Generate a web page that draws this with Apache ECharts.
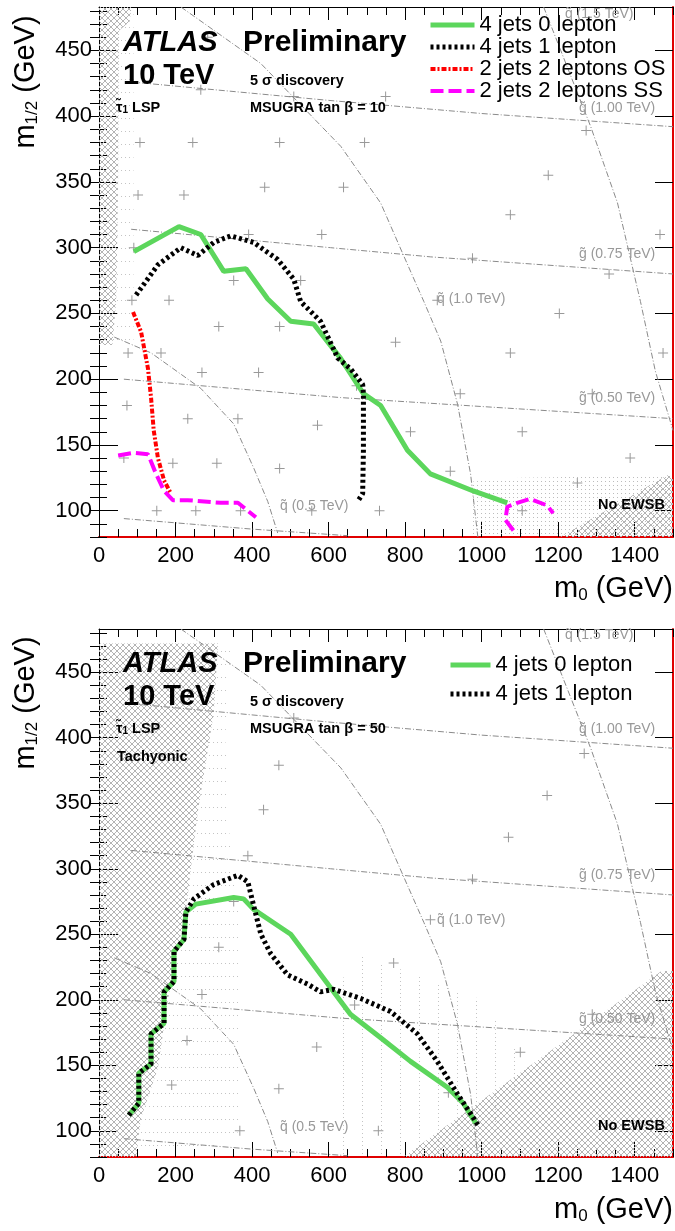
<!DOCTYPE html>
<html>
<head>
<meta charset="utf-8">
<script src="https://cdn.jsdelivr.net/npm/echarts@6/dist/echarts.min.js"></script>
<style>
html, body { margin: 0; background: #fff; }
#chart { width: 675px; height: 1231px; }
</style>
</head>
<body>
<div id="chart"></div>
<script>
// axis ticks
const xMajor = [0, 200, 400, 600, 800, 1000, 1200, 1400];
const yMajor = [100, 150, 200, 250, 300, 350, 400, 450];

// 5 sigma discovery reach, tan beta = 10 (m0, m1/2 in GeV)
const jets4lep0_tb10 = [[91,297],[209,316],[266,310],[326,282],[384,284],[441,261],[501,244],[561,242],[631,216],[691,189],[736,180],[806,146],[866,128],[978,115],[1067,106]];
const jets4lep1_tb10 = [[97,264],[154,287],[214,300],[258,294],[300,304],[344,309],[404,304],[467,291],[509,276],[527,259],[579,244],[624,216],[657,208],[689,196],[691,189],[691,146],[689,113],[678,108]];
const jets2lepOS_tb10 = [[89,251],[110,236],[128,208],[136,186],[143,161],[154,140],[170,123],[188,113]];
const jets2lepSS_tb10 = [[50,142],[91,144],[128,143],[149,128],[170,115],[193,108],[232,108],[318,106],[363,106],[410,95]];
const jets2lepSS_tb10_b = [[1083,85],[1062,93],[1067,103],[1093,106],[1127,109],[1171,104],[1187,98]];

// tan beta = 50
const jets4lep0_tb50 = [[78,112],[104,121],[104,144],[136,151],[136,174],[170,182],[170,206],[196,214],[196,237],[222,246],[227,267],[253,273],[352,278],[378,277],[404,269],[501,250],[631,199],[657,189],[736,171],[814,153],[911,133],[952,121],[984,106]];
const jets4lep1_tb50 = [[78,112],[104,121],[104,144],[136,151],[136,174],[170,182],[170,206],[196,214],[196,237],[222,246],[227,267],[248,277],[300,288],[363,295],[389,290],[404,272],[423,250],[449,235],[493,219],[545,212],[579,206],[613,208],[684,201],[762,191],[832,174],[884,153],[937,128],[978,110],[991,104]];

// sparticle mass contours
const gluino100 = [[84,426],[600,412],[1000,402],[1500,392]];
const gluino075 = [[84,314],[605,300],[867,293],[1500,280]];
const gluino050 = [[65,200],[632,186],[1500,170]];
const gluino025 = [[65,94],[400,86],[650,81]];
const squark05 = [[40,232],[136,220],[266,193],[352,166],[405,132],[441,107],[467,83]];
const squark10 = [[214,483],[423,440],[632,377],[736,334],[796,294],[849,259],[893,229],[937,181],[971,128],[990,80]];
const squark15 = [[1162,483],[1285,392],[1355,334],[1415,259],[1454,206],[1500,161]];

// excluded regions
const stauLsp_tb10 = [[0,483],[85,483],[80,472],[52,465],[50,350],[45,260],[35,226],[0,226]];
const noEwsb_tb10 = [[1205,80],[1500,80],[1500,126],[1485,127]];
const tachyonic_tb50 = [[0,80],[97,80],[102,93],[110,110],[154,148],[180,200],[214,250],[227,267],[240,300],[258,343],[300,419],[311,472],[0,472]];
const noEwsb_tb50 = [[795,80],[1500,80],[1500,222],[1470,222]];

// sparse scan texture next to the excluded regions
const scanEdge_tb10 = [[970,80],[970,122],[1100,125],[1500,127],[1500,80]];
const stauEdge_tb10 = [[35,226],[90,226],[90,483],[80,483],[52,465],[50,350],[45,260]];
const tachEdge_tb50 = [[97,80],[102,93],[110,110],[154,148],[180,200],[214,250],[227,267],[240,300],[258,343],[300,419],[311,472],[345,472],[330,400],[345,300],[370,262],[370,100],[250,80]];
const scanGrid_tb50 = [[600,80],[600,200],[680,235],[800,222],[1000,200],[1120,150],[1000,80]];

// scan points
const scan_tb10 = [[284,460],[266,420],[509,415],[107,380],[245,380],[472,380],[102,340],[222,340],[433,346],[391,310],[582,310],[91,300],[352,275],[527,275],[183,260],[86,260],[749,415],[694,380],[639,346],[1174,355],[1075,325],[1273,389],[1466,310],[976,292],[1333,280],[313,240],[472,240],[76,220],[162,220],[269,205],[417,205],[73,180],[232,170],[363,170],[571,165],[65,140],[193,136],[308,136],[472,132],[151,100],[253,100],[370,100],[556,100],[1203,250],[775,228],[1075,220],[944,189],[1474,220],[814,160],[1106,160],[918,130],[1250,121],[1388,140],[733,100],[1106,100],[884,260],[673,195],[1289,189]];
const scan_tb50 = [[509,415],[470,379],[430,345],[389,310],[352,275],[1268,388],[1171,356],[1070,324],[976,292],[313,240],[269,204],[230,169],[569,164],[190,135],[470,132],[368,100],[770,228],[668,196],[1101,160],[913,129],[730,100],[866,261],[1289,189]];

const FONT = 'Liberation Sans';
const chart = echarts.init(document.getElementById('chart'));

// fill patterns: 'cross' hatch, 'dot' grid, 'hrow' dotted rows, 'vcol' dotted columns
function pattern(color, w, h, kind) {
    const c = document.createElement('canvas');
    c.width = w; c.height = h;
    const g = c.getContext('2d');
    g.fillStyle = color; g.strokeStyle = color; g.lineWidth = 1;
    if (kind === 'cross') {
        g.beginPath();
        g.moveTo(0, 0); g.lineTo(w, h);
        g.moveTo(w, 0); g.lineTo(0, h);
        g.stroke();
    } else {
        g.fillRect(1, 1, 1, 1);
    }
    return { image: c, repeat: 'repeat' };
}
const hatchFill = pattern('#b4b4b4', 6, 6, 'cross');
const dotFill = pattern('#bcbcbc', 4, 4, 'dot');
const rowFill = pattern('#c4c4c4', 4, 13, 'dot');
const colFill = pattern('#c4c4c4', 19, 4, 'dot');

let xMinor = [], yMinor = [];
for (let v = 0; v <= 1500; v += 50) xMinor.push(v);
for (let v = 80; v <= 480; v += 10) yMinor.push(v);

const plain = v => String(v);

function xAxes(g) {
    const base = { gridIndex: g, type: 'value', min: 0, max: 1500, splitLine: { show: false } };
    return [
        Object.assign({}, base, { position: 'bottom',
            axisLine: { onZero: false, lineStyle: { color: '#e00000', width: 2 } },
            axisTick: { inside: true, length: 15, customValues: xMajor, lineStyle: { color: '#000' } },
            axisLabel: { customValues: xMajor, formatter: plain, fontSize: 22, color: '#000', margin: 8, fontFamily: FONT } }),
        Object.assign({}, base, { position: 'bottom', axisLine: { show: false },
            axisTick: { inside: true, length: 8, customValues: xMinor, lineStyle: { color: '#000' } },
            axisLabel: { show: false } }),
        Object.assign({}, base, { position: 'top',
            axisLine: { onZero: false, lineStyle: { color: '#000', width: 1 } },
            axisTick: { inside: true, length: 13, customValues: xMajor, lineStyle: { color: '#000' } },
            axisLabel: { show: false } }),
        Object.assign({}, base, { position: 'top', axisLine: { show: false },
            axisTick: { inside: true, length: 8, customValues: xMinor, lineStyle: { color: '#000' } },
            axisLabel: { show: false } })
    ];
}
function yAxes(g) {
    const base = { gridIndex: g, type: 'value', min: 80, max: 483, splitLine: { show: false } };
    return [
        Object.assign({}, base, { position: 'left',
            axisLine: { onZero: false, lineStyle: { color: '#000', width: 1 } },
            axisTick: { inside: true, length: 19, customValues: yMajor, lineStyle: { color: '#000' } },
            axisLabel: { customValues: yMajor, formatter: plain, fontSize: 22, color: '#000', margin: 7, fontFamily: FONT } }),
        Object.assign({}, base, { position: 'left', axisLine: { show: false },
            axisTick: { inside: true, length: 8, customValues: yMinor, lineStyle: { color: '#000' } },
            axisLabel: { show: false } }),
        Object.assign({}, base, { position: 'right',
            axisLine: { onZero: false, lineStyle: { color: '#e00000', width: 2 } },
            axisTick: { inside: true, length: 18, customValues: yMajor, lineStyle: { color: '#000' } },
            axisLabel: { show: false } }),
        Object.assign({}, base, { position: 'right', axisLine: { show: false },
            axisTick: { inside: true, length: 9, customValues: yMinor, lineStyle: { color: '#000' } },
            axisLabel: { show: false } })
    ];
}

function curve(name, data, g, lineStyle, z) {
    return { name: name, type: 'line', data: data, xAxisIndex: g * 4, yAxisIndex: g * 4,
        symbol: 'none', silent: true, z: z || 5, lineStyle: lineStyle,
        itemStyle: { color: lineStyle.color } };
}
function region(pts, g, fill, z) {
    return { type: 'custom', xAxisIndex: g * 4, yAxisIndex: g * 4, silent: true, z: z || 1,
        data: [pts[0]],
        renderItem: function (params, api) {
            return { type: 'polygon', shape: { points: pts.map(p => api.coord(p)) }, style: { fill: fill } };
        } };
}
const contourStyle = { color: '#8a8a8a', width: 1, type: [6, 2, 1, 2] };
const green = { color: '#5cd65c', width: 5 };
const black = { color: '#000', width: 5, type: [3, 3] };
const red = { color: '#ff0000', width: 4, type: [5, 2, 2, 2] };
const magenta = { color: '#ff00ff', width: 4, type: [13, 5] };
const plus = 'path://M4.5,0H5.5V4.5H10V5.5H5.5V10H4.5V5.5H0V4.5H4.5Z';

let series = [];
series.push(region(scanEdge_tb10, 0, dotFill, 0));
series.push(region(stauEdge_tb10, 0, rowFill, 0));
series.push(region(tachEdge_tb50, 1, rowFill, 0));
series.push(region(scanGrid_tb50, 1, colFill, 0));
series.push(region(stauLsp_tb10, 0, hatchFill));
series.push(region(noEwsb_tb10, 0, hatchFill));
series.push(region(tachyonic_tb50, 1, hatchFill));
series.push(region(noEwsb_tb50, 1, hatchFill));
[0, 1].forEach(g => {
    [gluino100, gluino075, gluino050, gluino025, squark05, squark10, squark15].forEach(c => {
        series.push(curve('contour', c, g, contourStyle, 2));
    });
    series.push({ type: 'scatter', xAxisIndex: g * 4, yAxisIndex: g * 4, silent: true, z: 3,
        data: g === 0 ? scan_tb10 : scan_tb50, symbol: plus, symbolSize: 10,
        itemStyle: { color: '#808080' } });
});

series.push(curve('4 jets 0 lepton', jets4lep0_tb10, 0, green));
series.push(curve('4 jets 1 lepton', jets4lep1_tb10, 0, black, 6));
series.push(curve('2 jets 2 leptons OS', jets2lepOS_tb10, 0, red));
series.push(curve('2 jets 2 leptons SS', jets2lepSS_tb10, 0, magenta));
series.push(curve('2 jets 2 leptons SS', jets2lepSS_tb10_b, 0, magenta));
series.push(curve('4 jets 0 lepton', jets4lep0_tb50, 1, green));
series.push(curve('4 jets 1 lepton', jets4lep1_tb50, 1, black, 6));

function text(x, y, str, size, extra) {
    return { type: 'text', x: x, y: y, z: 20, silent: true,
        style: Object.assign({ text: str, fontSize: size, fontFamily: FONT, fill: '#000',
            verticalAlign: 'middle' }, extra || {}) };
}
const grayText = { fill: '#999', fontSize: 14 };
const small = 14.5;
let graphics = [];
[0, 621].forEach((dy, i) => {
    graphics.push(text(123, 43 + dy, 'ATLAS', 29, { fontWeight: 'bold', fontStyle: 'italic' }));
    graphics.push(text(243, 43 + dy, 'Preliminary', 30, { fontWeight: 'bold' }));
    graphics.push(text(123, 76 + dy, '10 TeV', 29, { fontWeight: 'bold' }));
    graphics.push(text(250, 81 + dy, '5 σ discovery', small, { fontWeight: 'bold' }));
    graphics.push(text(250, 108 + dy, i === 0 ? 'MSUGRA tan β = 10' : 'MSUGRA tan β = 50', small, { fontWeight: 'bold' }));
    graphics.push(text(116, 108 + dy, '{a|τ̃}{s|1}{a| LSP}', small, { rich: {
        a: { fontSize: small, fontWeight: 'bold', fontFamily: FONT },
        s: { fontSize: 10, fontWeight: 'bold', fontFamily: FONT, verticalAlign: 'bottom' } } }));
    graphics.push(text(598, 505 + dy, 'No EWSB', small, { fontWeight: 'bold' }));
    graphics.push(text(565, 14 + dy, 'q̃ (1.5 TeV)', 14, grayText));
    graphics.push(text(579, 108 + dy, 'g̃ (1.00 TeV)', 14, grayText));
    graphics.push(text(579, 254 + dy, 'g̃ (0.75 TeV)', 14, grayText));
    graphics.push(text(437, 299 + dy, 'q̃ (1.0 TeV)', 14, grayText));
    graphics.push(text(579, 398 + dy, 'g̃ (0.50 TeV)', 14, grayText));
    graphics.push(text(280, 506 + dy, 'q̃ (0.5 TeV)', 14, grayText));
    // axis titles
    graphics.push({ type: 'text', x: 26, y: 82 + dy, rotation: Math.PI / 2, silent: true,
        style: { text: '{a|m}{s|1/2}{a| (GeV)}', align: 'center', verticalAlign: 'middle',
            rich: { a: { fontSize: 29, fontFamily: FONT }, s: { fontSize: 17, fontFamily: FONT, verticalAlign: 'bottom' } } } });
    graphics.push({ type: 'text', x: 673, y: 589 + dy, silent: true,
        style: { text: '{a|m}{s|0}{a| (GeV)}', align: 'right', verticalAlign: 'middle',
            rich: { a: { fontSize: 29, fontFamily: FONT }, s: { fontSize: 17, fontFamily: FONT, verticalAlign: 'bottom' } } } });
});
graphics.push(text(117, 757, 'Tachyonic', small, { fontWeight: 'bold' }));

const legendText = { fontSize: 22, lineHeight: 20, color: '#000', fontFamily: FONT };
chart.setOption({
    animation: false,
    grid: [
        { left: 99, top: 7, width: 574, height: 530, outerBoundsMode: 'none' },
        { left: 99, top: 629, width: 574, height: 528, outerBoundsMode: 'none' }
    ],
    xAxis: xAxes(0).concat(xAxes(1)),
    yAxis: yAxes(0).concat(yAxes(1)),
    legend: [
        { orient: 'vertical', left: 423, top: 9, itemWidth: 44, itemHeight: 6, itemGap: 0,
            selectedMode: false, itemStyle: { opacity: 0 }, lineStyle: { width: 'inherit' },
            data: ['4 jets 0 lepton', '4 jets 1 lepton', '2 jets 2 leptons OS', '2 jets 2 leptons SS'],
            textStyle: legendText },
        { orient: 'vertical', left: 443, top: 649, itemWidth: 40, itemHeight: 6, itemGap: 7,
            selectedMode: false, itemStyle: { opacity: 0 }, lineStyle: { width: 'inherit' },
            data: ['4 jets 0 lepton', '4 jets 1 lepton'],
            textStyle: legendText }
    ],
    graphic: graphics,
    series: series
});
</script>
</body>
</html>
